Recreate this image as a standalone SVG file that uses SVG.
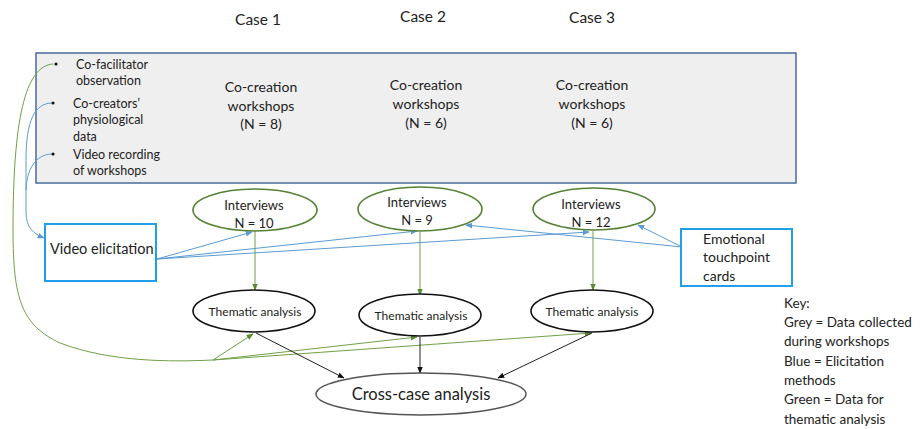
<svg xmlns="http://www.w3.org/2000/svg" width="921" height="429" viewBox="0 0 921 429">
<style>
text{font-family:Lato,"Liberation Sans",sans-serif;fill:#222}
.case{font-size:15.5px;text-anchor:middle}
.ws{font-size:14px;text-anchor:middle}
.bul{font-size:12.5px}
.iv{font-size:13px;text-anchor:middle}
.ta{font-size:12px;text-anchor:middle}
.box{fill:#fff;stroke:#1fa0e8;stroke-width:2}
.gel{fill:#fff;stroke:#548235;stroke-width:1.6}
.bel{fill:#fff;stroke:#111;stroke-width:1.6}
.bl{fill:none;stroke:#5b9bd5;stroke-width:1}
.gl{fill:none;stroke:#70a047;stroke-width:1}
.kl{fill:none;stroke:#222;stroke-width:1}
.key{font-size:13.5px}
</style>
<defs>
<marker id="ab" viewBox="0 0 10 10" refX="9" refY="5" markerWidth="7" markerHeight="7" orient="auto-start-reverse"><path d="M0,1 L10,5 L0,9 z" fill="#5b9bd5"/></marker>
<marker id="ag" viewBox="0 0 10 10" refX="9" refY="5" markerWidth="7" markerHeight="7" orient="auto-start-reverse"><path d="M0,1 L10,5 L0,9 z" fill="#5a8a32"/></marker>
<marker id="ak" viewBox="0 0 10 10" refX="9" refY="5" markerWidth="7" markerHeight="7" orient="auto-start-reverse"><path d="M0,1 L10,5 L0,9 z" fill="#111"/></marker>
</defs>
<rect width="921" height="429" fill="#fff"/>

<g id="cases">
<text class="case" x="258" y="25">Case 1</text>
<text class="case" x="423" y="22">Case 2</text>
<text class="case" x="592" y="23">Case 3</text>
</g>

<g id="workshops">
<rect x="36" y="53" width="760" height="130" fill="#efefef" stroke="#4a6c9b" stroke-width="1.5"/>
<circle cx="56" cy="64" r="1.6" fill="#111"/>
<circle cx="53" cy="103" r="1.6" fill="#111"/>
<circle cx="53" cy="154" r="1.6" fill="#111"/>
<text class="bul" x="76" y="69">Co-facilitator</text>
<text class="bul" x="76" y="85">observation</text>
<text class="bul" x="73" y="108">Co-creators’</text>
<text class="bul" x="73" y="124">physiological</text>
<text class="bul" x="73" y="141">data</text>
<text class="bul" x="73" y="159">Video recording</text>
<text class="bul" x="73" y="175">of workshops</text>
<text class="ws" x="261" y="92">Co-creation</text>
<text class="ws" x="261" y="111">workshops</text>
<text class="ws" x="261" y="129">(N = 8)</text>
<text class="ws" x="426" y="90">Co-creation</text>
<text class="ws" x="426" y="109">workshops</text>
<text class="ws" x="426" y="128">(N = 6)</text>
<text class="ws" x="592" y="90">Co-creation</text>
<text class="ws" x="592" y="109">workshops</text>
<text class="ws" x="592" y="128">(N = 6)</text>
</g>

<g id="connectors">
<path class="gl" d="M53,64 C25,66 13,120 13,230 C13,300 22,325 60,343 C110,362 170,362 213,360"/>
<path class="gl" d="M213,360 L253,334" marker-end="url(#ag)"/>
<path class="gl" d="M213,360 L417,337" marker-end="url(#ag)"/>
<path class="gl" d="M213,360 L591,333" marker-end="url(#ag)"/>
<path class="bl" d="M51,103 C35,104 26,120 26,160 L26,212 C26,228 34,234 44,238" marker-end="url(#ab)"/>
<path class="bl" d="M51,154 C36,155 27,168 26,190"/>
<path class="bl" d="M157,259 L252,232" marker-end="url(#ab)"/>
<path class="bl" d="M157,259 L417,231" marker-end="url(#ab)"/>
<path class="bl" d="M157,259 L589,232" marker-end="url(#ab)"/>
<path class="bl" d="M682,247 L466,225" marker-end="url(#ab)"/>
<path class="bl" d="M682,247 L638,225" marker-end="url(#ab)"/>
<path class="gl" d="M255,231 L255,290" marker-end="url(#ag)"/>
<path class="gl" d="M420,232 L420,295" marker-end="url(#ag)"/>
<path class="gl" d="M593,231 L593,290" marker-end="url(#ag)"/>
<path class="kl" d="M256,333 L344,378" marker-end="url(#ak)"/>
<path class="kl" d="M420,337 L420,373" marker-end="url(#ak)"/>
<path class="kl" d="M592,333 L498,378" marker-end="url(#ak)"/>
</g>

<g id="video-elicitation">
<rect class="box" x="45" y="224" width="111" height="57"/>
<text x="50" y="254" style="font-size:14.5px">Video elicitation</text>
</g>

<g id="emotional-cards">
<rect class="box" x="681" y="229" width="111" height="57"/>
<text x="703" y="244" style="font-size:14px">Emotional</text>
<text x="703" y="262" style="font-size:14px">touchpoint</text>
<text x="703" y="281" style="font-size:14px">cards</text>
</g>

<g id="interviews-1">
<ellipse class="gel" cx="255" cy="210" rx="62" ry="21"/>
<text class="iv" x="254" y="210">Interviews</text>
<text class="iv" x="254" y="228">N = 10</text>
</g>
<g id="interviews-2">
<ellipse class="gel" cx="420" cy="209" rx="62" ry="22"/>
<text class="iv" x="417" y="207">Interviews</text>
<text class="iv" x="417" y="225">N = 9</text>
</g>
<g id="interviews-3">
<ellipse class="gel" cx="594" cy="209" rx="61" ry="21"/>
<text class="iv" x="591" y="209">Interviews</text>
<text class="iv" x="591" y="227">N = 12</text>
</g>

<g id="thematic-1">
<ellipse class="bel" cx="254" cy="311" rx="61" ry="21"/>
<text class="ta" x="255" y="316">Thematic analysis</text>
</g>
<g id="thematic-2">
<ellipse class="bel" cx="420" cy="315" rx="61" ry="21"/>
<text class="ta" x="421" y="320">Thematic analysis</text>
</g>
<g id="thematic-3">
<ellipse class="bel" cx="592" cy="311" rx="61" ry="21"/>
<text class="ta" x="592" y="316">Thematic analysis</text>
</g>

<g id="cross-case">
<ellipse cx="421" cy="394" rx="105" ry="21" fill="#fff" stroke="#555" stroke-width="1.5"/>
<text x="421" y="400" text-anchor="middle" style="font-size:16.5px">Cross-case analysis</text>
</g>

<g id="key">
<text class="key" x="784" y="308">Key:</text>
<text class="key" x="784" y="327">Grey = Data collected</text>
<text class="key" x="784" y="346">during workshops</text>
<text class="key" x="784" y="366">Blue = Elicitation</text>
<text class="key" x="784" y="385">methods</text>
<text class="key" x="784" y="404">Green = Data for</text>
<text class="key" x="784" y="424">thematic analysis</text>
</g>
</svg>
